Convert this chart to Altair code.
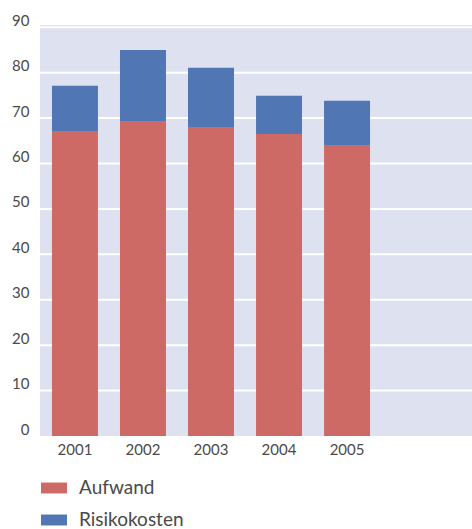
import altair as alt
import pandas as pd

years = ["2001", "2002", "2003", "2004", "2005"]
aufwand = [67.0, 69.2, 67.9, 66.5, 63.9]
risikokosten = [10.1, 15.8, 13.2, 8.4, 9.9]
series = ["Aufwand", "Risikokosten"]
colors = ["#CD6A65", "#5076B4"]
y_ticks = [0, 10, 20, 30, 40, 50, 60, 70, 80, 90]

rows = []
for i, y in enumerate(years):
    rows.append({"Jahr": y, "Serie": series[0], "Wert": aufwand[i], "o": 0})
    rows.append({"Jahr": y, "Serie": series[1], "Wert": risikokosten[i], "o": 1})
df = pd.DataFrame(rows)
grid_df = pd.DataFrame({"Wert": y_ticks[1:]})

FONT = "Lato"
LABEL_COLOR = "#4a4a4a"

yscale = alt.Scale(domain=[0, 90.5], nice=False)

grid = alt.Chart(grid_df).mark_rule(color="white", strokeWidth=2).encode(
    x=alt.value(0), x2=alt.value(432),
    y=alt.Y("Wert:Q", scale=yscale),
)

bars = alt.Chart(df).mark_bar().encode(
    x=alt.X("Jahr:N", sort=years,
            scale=alt.Scale(range=[0, 342], paddingInner=0.324, paddingOuter=0.176),
            axis=alt.Axis(title=None, labelAngle=0, domain=False, ticks=False,
                          labelPadding=6, labelFontSize=15, labelFont=FONT,
                          labelColor=LABEL_COLOR, grid=False)),
    y=alt.Y("Wert:Q", stack="zero", scale=yscale,
            axis=alt.Axis(title=None, values=y_ticks, domain=False, ticks=False,
                          labelPadding=11, labelFontSize=15, labelFont=FONT,
                          labelColor=LABEL_COLOR, labelBaseline="bottom",
                          labelOffset=1, grid=False)),
    color=alt.Color("Serie:N",
                    scale=alt.Scale(domain=series, range=colors),
                    legend=alt.Legend(title=None, orient="none", legendX=1, legendY=450,
                                      direction="vertical", padding=0,
                                      symbolType="M-1,-0.42H1V0.42H-1Z",
                                      symbolSize=676, symbolOpacity=1,
                                      symbolStrokeWidth=0,
                                      labelFontSize=19, labelFont=FONT,
                                      labelColor=LABEL_COLOR, labelOffset=12,
                                      rowPadding=9, symbolOffset=0)),
    order=alt.Order("o:Q"),
)

chart = alt.layer(grid, bars).properties(
    width=432, height=411,
    autosize=alt.AutoSizeParams(type="none"),
    padding={"left": 40, "top": 25, "right": 0, "bottom": 93},
).configure_view(
    fill="#DEE1F0", stroke=None
)

chart.save("out.html", embed_options={"renderer": "svg", "actions": False})
